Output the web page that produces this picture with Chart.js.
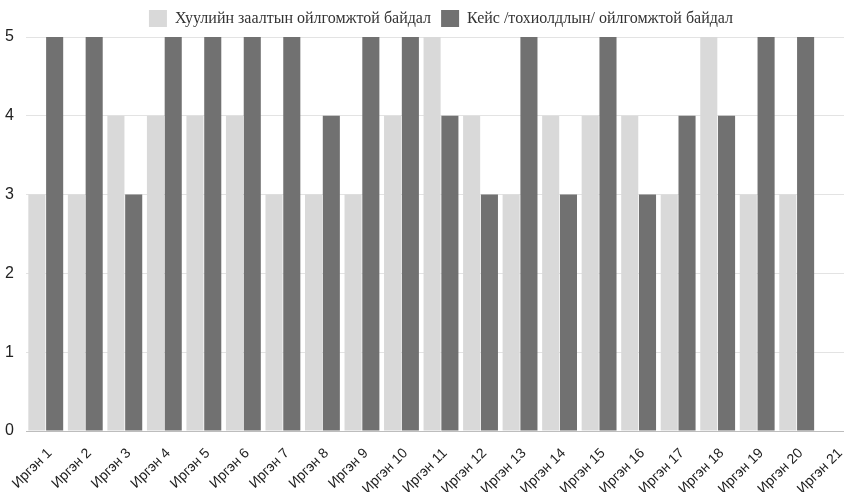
<!DOCTYPE html>
<html>
<head>
<meta charset="utf-8">
<script src="https://cdn.jsdelivr.net/npm/chart.js@4"></script>
<style>
  html, body { margin: 0; padding: 0; background: #fff; overflow: hidden; }
  #wrap { width: 856px; height: 492px; }
</style>
</head>
<body>
<div id="wrap"><canvas id="chart"></canvas></div>
<script>
const categories = ['Иргэн 1', 'Иргэн 2', 'Иргэн 3', 'Иргэн 4', 'Иргэн 5', 'Иргэн 6', 'Иргэн 7',
  'Иргэн 8', 'Иргэн 9', 'Иргэн 10', 'Иргэн 11', 'Иргэн 12', 'Иргэн 13', 'Иргэн 14',
  'Иргэн 15', 'Иргэн 16', 'Иргэн 17', 'Иргэн 18', 'Иргэн 19', 'Иргэн 20', 'Иргэн 21'];
const lawValues  = [3, 3, 4, 4, 4, 4, 3, 3, 3, 4, 5, 4, 3, 4, 4, 4, 3, 5, 3, 3, null];
const caseValues = [5, 5, 3, 5, 5, 5, 5, 4, 5, 5, 4, 3, 5, 3, 5, 3, 4, 4, 5, 5, null];
const seriesNames = ['Хуулийн заалтын ойлгомжтой байдал', 'Кейс /тохиолдлын/ ойлгомжтой байдал'];
const yTicks = [0, 1, 2, 3, 4, 5];

// center the legend over the plot area rather than the whole canvas
const legendOverPlot = {
  id: 'legendOverPlot',
  afterLayout(chart) {
    chart.legend.left = chart.chartArea.left;
    chart.legend.right = chart.chartArea.right;
  }
};

const ctx = document.getElementById('chart').getContext('2d');
new Chart(ctx, {
  type: 'bar',
  data: {
    labels: categories,
    datasets: [{
      label: seriesNames[0],
      data: lawValues,
      backgroundColor: '#d9d9d9',
      barPercentage: 0.96,
      categoryPercentage: 0.9
    }, {
      label: seriesNames[1],
      data: caseValues,
      backgroundColor: '#717171',
      barPercentage: 0.96,
      categoryPercentage: 0.9
    }]
  },
  plugins: [legendOverPlot],
  options: {
    responsive: true,
    maintainAspectRatio: false,
    animation: false,
    layout: { padding: 0 },
    plugins: {
      legend: {
        labels: {
          boxWidth: 18,
          boxHeight: 17,
          color: '#333',
          font: { family: 'Liberation Serif', size: 16 },
          padding: 10
        }
      },
      tooltip: { enabled: false }
    },
    scales: {
      x: {
        grid: { display: false },
        border: { color: '#bdbdbd' },
        afterFit: function(axis) { axis.height = 61; },
        ticks: {
          color: '#222',
          font: { family: 'Liberation Sans', size: 14 },
          maxRotation: 45,
          minRotation: 45,
          autoSkip: false,
          padding: 6,
          labelOffset: 4
        }
      },
      y: {
        min: 0,
        max: 5,
        afterBuildTicks: function(axis) {
          axis.ticks = yTicks.map(v => ({ value: v }));
        },
        afterFit: function(axis) { axis.width = 26; },
        grid: { color: '#e3e3e3', drawTicks: false },
        border: { display: false },
        ticks: {
          color: '#222',
          font: { family: 'Liberation Sans', size: 16 },
          padding: 12
        }
      }
    }
  }
});
</script>
</body>
</html>
